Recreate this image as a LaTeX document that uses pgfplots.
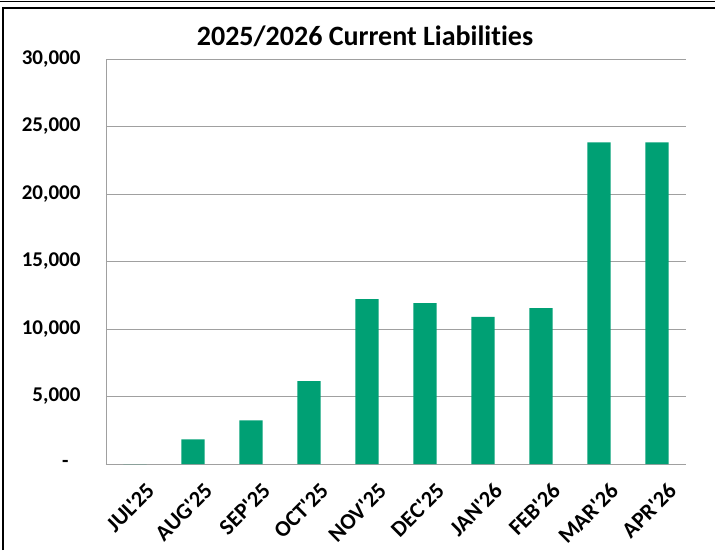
\documentclass[border=0pt]{standalone}
\usepackage{pgfplots}
\pgfplotsset{compat=1.18}
\usepackage{fontspec}
\setmainfont{Carlito}[Ligatures={CommonOff,TeXOff}]
\definecolor{bargreen}{RGB}{0,160,116}
\definecolor{gridgray}{RGB}{160,160,160}
\begin{document}
\begin{tikzpicture}[x=1pt,y=1pt]
\path[use as bounding box] (0,0) rectangle (715,550);
\draw[line width=1pt] (0,548) -- (715,548);
\draw[line width=1.2pt] (3,0) -- (3,542) -- (715,542);
\begin{axis}[
  at={(106pt,86pt)}, anchor=south west,
  scale only axis, width=580pt, height=405pt,
  ymin=0, ymax=30000,
  xmin=-0.5, xmax=9.5,
  scaled y ticks=false,
  ytick={0,5000,10000,15000,20000,25000,30000},
  yticklabels={{-\hspace*{12pt}},{5,000},{10,000},{15,000},{20,000},{25,000},{30,000}},
  xtick={0,...,9},
  xticklabels={JUL'25,AUG'25,SEP'25,OCT'25,NOV'25,DEC'25,JAN'26,FEB'26,MAR'26,APR'26},
  ymajorgrids, grid style={gridgray, line width=0.8pt},
  major tick length=0pt,
  axis x line*=bottom, axis y line*=left,
  axis line style={gridgray, line width=0.8pt, -},
  yticklabel style={font=\bfseries\fontsize{21}{24}\selectfont, anchor=east, xshift=-22pt},
  xticklabel style={font=\bfseries\fontsize{22.5}{26}\selectfont, rotate=45, anchor=north east, xshift=-2pt, yshift=-16pt},
  ybar, bar width=23.2pt,
  clip=false,
]
\addplot[fill=bargreen, draw=none] coordinates {
(0,0) (1,1825) (2,3230) (3,6140) (4,12210) (5,11910) (6,10900) (7,11540) (8,23830) (9,23830)};
\end{axis}
\node[font=\bfseries\fontsize{28}{32}\selectfont] at (365,514) {2025/2026 Current Liabilities};
\end{tikzpicture}
\end{document}
